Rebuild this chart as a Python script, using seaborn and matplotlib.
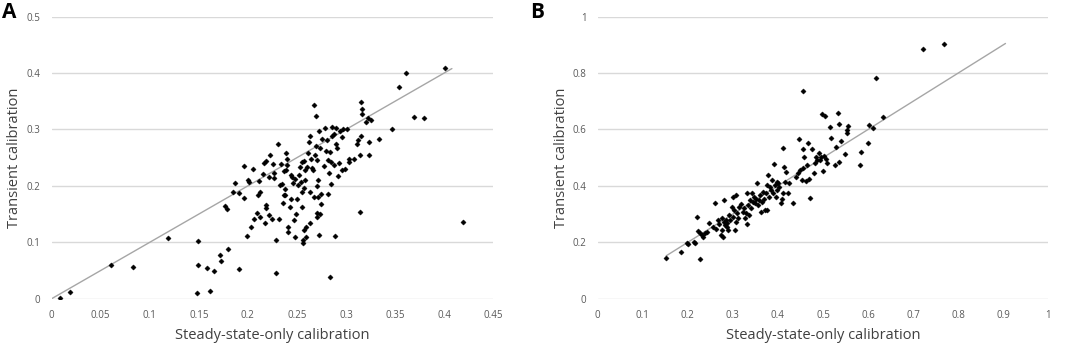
import numpy as np
import matplotlib
matplotlib.use("Agg")
import matplotlib.pyplot as plt
import pandas as pd
import seaborn as sns

# Panel A: steady-state-only vs transient calibration
a_x = [0.008, 0.019, 0.061, 0.083, 0.119, 0.148, 0.149, 0.149, 0.158, 0.161, 0.166, 0.172, 0.173,
       0.177, 0.179, 0.180, 0.185, 0.187, 0.191, 0.191, 0.196, 0.196, 0.199, 0.200, 0.201, 0.203,
       0.205, 0.206, 0.209, 0.210, 0.211, 0.212, 0.212, 0.215, 0.216, 0.217, 0.218, 0.219, 0.219,
       0.222, 0.222, 0.223, 0.225, 0.226, 0.227, 0.227, 0.229, 0.229, 0.231, 0.232, 0.233, 0.234,
       0.235, 0.236, 0.237, 0.237, 0.238, 0.238, 0.239, 0.239, 0.240, 0.240, 0.241, 0.241, 0.243,
       0.244, 0.244, 0.245, 0.246, 0.247, 0.248, 0.248, 0.249, 0.250, 0.251, 0.252, 0.253, 0.254,
       0.255, 0.255, 0.255, 0.256, 0.256, 0.257, 0.257, 0.257, 0.258, 0.258, 0.259, 0.259, 0.260,
       0.261, 0.262, 0.263, 0.263, 0.263, 0.264, 0.265, 0.266, 0.267, 0.267, 0.268, 0.269, 0.269,
       0.270, 0.271, 0.271, 0.271, 0.272, 0.272, 0.273, 0.273, 0.274, 0.274, 0.275, 0.275, 0.276,
       0.278, 0.279, 0.280, 0.281, 0.282, 0.282, 0.283, 0.284, 0.284, 0.285, 0.285, 0.286, 0.286,
       0.288, 0.288, 0.289, 0.290, 0.290, 0.291, 0.292, 0.293, 0.294, 0.296, 0.296, 0.297, 0.299,
       0.301, 0.303, 0.303, 0.308, 0.311, 0.312, 0.314, 0.314, 0.315, 0.315, 0.316, 0.316, 0.320,
       0.322, 0.323, 0.324, 0.326, 0.334, 0.347, 0.354, 0.361, 0.369, 0.380, 0.401, 0.419]
a_y = [0.002, 0.011, 0.060, 0.056, 0.108, 0.010, 0.059, 0.102, 0.054, 0.014, 0.049, 0.078, 0.067,
       0.164, 0.159, 0.088, 0.189, 0.205, 0.053, 0.187, 0.235, 0.179, 0.111, 0.210, 0.207, 0.128,
       0.230, 0.141, 0.152, 0.183, 0.209, 0.144, 0.189, 0.221, 0.240, 0.134, 0.161, 0.245, 0.167,
       0.215, 0.148, 0.254, 0.141, 0.238, 0.223, 0.214, 0.104, 0.045, 0.275, 0.142, 0.201, 0.239,
       0.204, 0.169, 0.184, 0.227, 0.195, 0.183, 0.229, 0.259, 0.247, 0.237, 0.128, 0.118, 0.163,
       0.219, 0.176, 0.216, 0.206, 0.139, 0.213, 0.110, 0.151, 0.176, 0.202, 0.219, 0.234, 0.207,
       0.242, 0.189, 0.163, 0.098, 0.104, 0.122, 0.197, 0.245, 0.228, 0.210, 0.110, 0.128, 0.234,
       0.258, 0.277, 0.135, 0.289, 0.190, 0.247, 0.231, 0.229, 0.343, 0.181, 0.255, 0.324, 0.271,
       0.246, 0.152, 0.200, 0.144, 0.210, 0.181, 0.297, 0.113, 0.151, 0.267, 0.168, 0.186, 0.284,
       0.235, 0.302, 0.261, 0.281, 0.186, 0.246, 0.222, 0.260, 0.039, 0.204, 0.243, 0.288, 0.305,
       0.237, 0.292, 0.111, 0.274, 0.302, 0.268, 0.218, 0.241, 0.298, 0.287, 0.228, 0.301, 0.230,
       0.301, 0.247, 0.243, 0.248, 0.274, 0.281, 0.153, 0.255, 0.289, 0.349, 0.337, 0.327, 0.314,
       0.321, 0.255, 0.278, 0.316, 0.284, 0.300, 0.376, 0.401, 0.323, 0.320, 0.409, 0.136]
a_line = [0.0, 0.408]

# Panel B
b_x = [0.152, 0.185, 0.199, 0.200, 0.214, 0.217, 0.221, 0.223, 0.227, 0.226, 0.231, 0.234, 0.238,
       0.242, 0.248, 0.257, 0.260, 0.263, 0.266, 0.269, 0.273, 0.275, 0.277, 0.279, 0.280, 0.281,
       0.283, 0.285, 0.286, 0.288, 0.290, 0.292, 0.294, 0.297, 0.300, 0.301, 0.303, 0.305, 0.307,
       0.308, 0.310, 0.312, 0.314, 0.317, 0.322, 0.325, 0.327, 0.329, 0.331, 0.332, 0.334, 0.336,
       0.338, 0.340, 0.342, 0.344, 0.347, 0.349, 0.351, 0.354, 0.355, 0.357, 0.360, 0.362, 0.364,
       0.366, 0.369, 0.371, 0.374, 0.375, 0.376, 0.379, 0.381, 0.382, 0.384, 0.386, 0.388, 0.391,
       0.393, 0.395, 0.397, 0.399, 0.401, 0.403, 0.406, 0.408, 0.411, 0.412, 0.413, 0.416, 0.419,
       0.423, 0.425, 0.434, 0.440, 0.444, 0.446, 0.449, 0.453, 0.455, 0.455, 0.456, 0.458, 0.462,
       0.465, 0.467, 0.470, 0.471, 0.475, 0.479, 0.482, 0.484, 0.487, 0.491, 0.493, 0.496, 0.498,
       0.499, 0.502, 0.504, 0.507, 0.510, 0.516, 0.518, 0.527, 0.529, 0.534, 0.535, 0.536, 0.539,
       0.553, 0.554, 0.556, 0.549, 0.582, 0.584, 0.599, 0.602, 0.612, 0.618, 0.634, 0.721, 0.768]
b_y = [0.143, 0.164, 0.199, 0.194, 0.202, 0.199, 0.288, 0.240, 0.139, 0.232, 0.226, 0.220, 0.232,
       0.238, 0.270, 0.255, 0.340, 0.248, 0.279, 0.265, 0.226, 0.285, 0.244, 0.220, 0.350, 0.273,
       0.261, 0.279, 0.255, 0.270, 0.244, 0.297, 0.279, 0.326, 0.291, 0.362, 0.314, 0.243, 0.273,
       0.368, 0.303, 0.285, 0.326, 0.336, 0.309, 0.320, 0.285, 0.305, 0.265, 0.374, 0.332, 0.297,
       0.350, 0.320, 0.376, 0.344, 0.362, 0.338, 0.353, 0.411, 0.332, 0.350, 0.368, 0.306, 0.344,
       0.379, 0.353, 0.314, 0.376, 0.403, 0.316, 0.438, 0.362, 0.397, 0.385, 0.421, 0.374, 0.476,
       0.403, 0.362, 0.415, 0.385, 0.411, 0.397, 0.338, 0.352, 0.534, 0.376, 0.466, 0.415, 0.450,
       0.376, 0.411, 0.340, 0.433, 0.444, 0.565, 0.456, 0.421, 0.462, 0.530, 0.736, 0.504, 0.417,
       0.473, 0.553, 0.424, 0.356, 0.530, 0.444, 0.480, 0.504, 0.492, 0.515, 0.492, 0.504, 0.655,
       0.454, 0.506, 0.649, 0.494, 0.480, 0.610, 0.569, 0.474, 0.539, 0.660, 0.619, 0.486, 0.558,
       0.586, 0.598, 0.612, 0.513, 0.474, 0.521, 0.553, 0.616, 0.606, 0.781, 0.645, 0.884, 0.902]
b_line = [0.152, 0.905]

sns.set_style("white")
plt.rcParams['font.family'] = ['Open Sans', 'DejaVu Sans']

fig = plt.figure(figsize=(10.65, 3.44), dpi=100)
ax_a = fig.add_axes([0.0485, 0.1317, 0.4145, 0.8198])
ax_b = fig.add_axes([0.5612, 0.1317, 0.4231, 0.8198])

panels = [
    (ax_a, a_x, a_y, a_line, 0.45, 0.05, 0.5, 0.1, "A", 0.002),
    (ax_b, b_x, b_y, b_line, 1.0, 0.1, 1.0, 0.2, "B", 0.4975),
]

for ax, xs, ys, line, xmax, xstep, ymax, ystep, letter, lx in panels:
    df = pd.DataFrame({"x": xs, "y": ys})
    ln = pd.DataFrame({"x": line, "y": line})
    ax.yaxis.grid(True, color="#d9d9d9", linewidth=1.0)
    ax.set_axisbelow(True)
    sns.lineplot(data=ln, x="x", y="y", ax=ax, color="#a6a6a6", linewidth=1.0, zorder=2)
    sns.scatterplot(data=df, x="x", y="y", ax=ax, marker="D", s=7, color="black",
                    edgecolor="black", linewidth=0.3, zorder=3)
    ax.set_xlim(0, xmax)
    ax.set_ylim(0, ymax)
    xt = np.round(np.arange(0, xmax + xstep / 2, xstep), 2)
    yt = np.round(np.arange(0, ymax + ystep / 2, ystep), 2)
    ax.set_xticks(xt)
    ax.set_yticks(yt)
    ax.set_xticklabels([f"{v:g}" for v in xt])
    ax.set_yticklabels([f"{v:g}" for v in yt])
    ax.tick_params(axis="both", length=0, labelsize=7, labelcolor="#595959", pad=8)
    for s in ax.spines.values():
        s.set_visible(False)
    ax.set_xlabel("Steady-state-only calibration", fontsize=10.5, color="#404040", labelpad=5)
    ax.set_ylabel("Transient calibration", fontsize=10.5, color="#404040", labelpad=3)
    fig.text(lx, 0.995, letter, fontsize=15, fontweight="bold", color="black",
             ha="left", va="top")

fig.savefig("out.png", dpi=100)
